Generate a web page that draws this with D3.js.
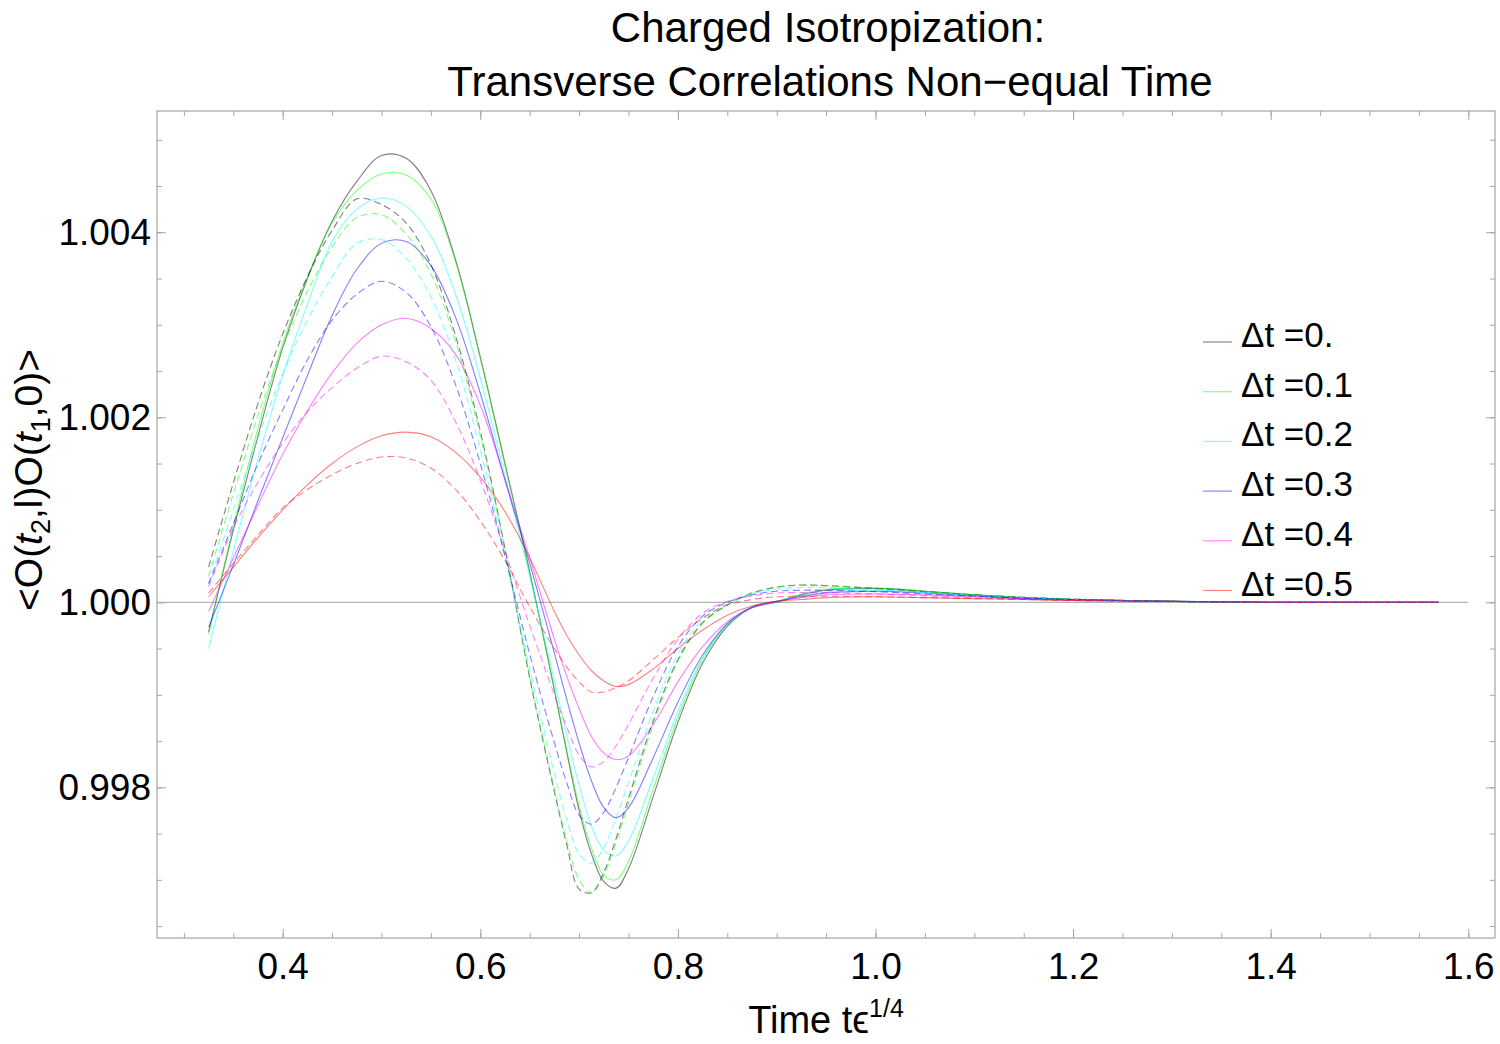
<!DOCTYPE html>
<html>
<head>
<meta charset="utf-8">
<script src="https://cdn.jsdelivr.net/npm/d3@7"></script>
<style>
body { margin: 0; background: white; }
text { font-family: "Liberation Sans", Arial, sans-serif; fill: black; }
</style>
</head>
<body>
<script>
// time grid (t eps^1/4) shared by all curves
var tGrid = [0.325, 0.35, 0.375, 0.4, 0.425, 0.45, 0.475, 0.5, 0.525, 0.55, 0.575, 0.6, 0.625, 0.65, 0.675, 0.6875, 0.7, 0.7125, 0.725, 0.7375,
             0.75, 0.775, 0.8, 0.825, 0.85, 0.875, 0.9, 0.925, 0.95, 1.0, 1.05, 1.1, 1.15, 1.2, 1.3, 1.4, 1.5, 1.57]

// solid curves, dt = 0 ... 0.5
var solid0 = [0.99968, 1.00078, 1.00180, 1.00275, 1.00350, 1.00412, 1.00455, 1.00483, 1.00480, 1.00445, 1.00370, 1.00265, 1.00150, 1.00033, 0.99905, 0.99838, 0.99775, 0.99728, 0.99698, 0.99691,
              0.99712, 0.99790, 0.99870, 0.99934, 0.99974, 0.99994, 1.00000, 1.00008, 1.00013, 1.00015, 1.00012, 1.00008, 1.00005, 1.00003, 1.00001, 1.00000, 1.00000, 1.00000]
var solid1 = [0.99965, 1.00082, 1.00188, 1.00280, 1.00352, 1.00410, 1.00445, 1.00463, 1.00462, 1.00436, 1.00368, 1.00264, 1.00148, 1.00032, 0.99906, 0.99840, 0.99780, 0.99734, 0.99705, 0.99700,
              0.99720, 0.99798, 0.99876, 0.99938, 0.99976, 0.99995, 1.00001, 1.00009, 1.00014, 1.000155, 1.00012, 1.00008, 1.00005, 1.00003, 1.00001, 1.00000, 1.00000, 1.00000]
var solid2 = [0.99950, 1.00055, 1.00155, 1.00245, 1.00322, 1.00390, 1.00425, 1.00437, 1.00428, 1.00396, 1.00333, 1.00242, 1.00136, 1.00028, 0.99915, 0.99857, 0.99802, 0.99758, 0.99732, 0.99726,
              0.99742, 0.99810, 0.99882, 0.99940, 0.99976, 0.99994, 1.00000, 1.00007, 1.00011, 1.00013, 1.00011, 1.00007, 1.00005, 1.00003, 1.00001, 1.00000, 1.00000, 1.00000]
var solid3 = [0.99973, 1.00040, 1.00110, 1.00178, 1.00245, 1.00310, 1.00360, 1.00388, 1.00390, 1.00364, 1.00308, 1.00226, 1.00132, 1.00042, 0.99945, 0.99895, 0.99848, 0.99807, 0.99778, 0.99767,
              0.99778, 0.99832, 0.99892, 0.99943, 0.99977, 0.99995, 1.00001, 1.00006, 1.00010, 1.00012, 1.00010, 1.00007, 1.00004, 1.00003, 1.00001, 1.00000, 1.00000, 1.00000]
var solid4 = [0.99990, 1.00048, 1.00105, 1.00160, 1.00207, 1.00248, 1.00280, 1.00300, 1.00307, 1.00296, 1.00268, 1.00213, 1.00133, 1.00048, 0.99960, 0.99920, 0.99885, 0.99855, 0.99837, 0.99830,
              0.99834, 0.99868, 0.99914, 0.99952, 0.99979, 0.99994, 1.00001, 1.00005, 1.00008, 1.00009, 1.00008, 1.00006, 1.00004, 1.00002, 1.00001, 1.00000, 1.00000, 1.00000]
var solid5 = [1.00006, 1.00038, 1.00070, 1.00100, 1.00127, 1.00150, 1.00168, 1.00180, 1.00184, 1.00179, 1.00162, 1.00135, 1.00098, 1.00048, 0.99990, 0.99964, 0.99943, 0.99926, 0.99915, 0.99909,
              0.99911, 0.99928, 0.99950, 0.99970, 0.99986, 0.99996, 1.00001, 1.00003, 1.00005, 1.00006, 1.00005, 1.00004, 1.00003, 1.00002, 1.00001, 1.00000, 1.00000, 1.00000]

// dashed curves, same dt order
var dashed0 = [1.00038, 1.00129, 1.00215, 1.00290, 1.00352, 1.00402, 1.00436, 1.00430, 1.00410, 1.00365, 1.00288, 1.00185, 1.00058, 0.99918, 0.99795, 0.99738, 0.99690, 0.99686, 0.99708, 0.99745,
               0.99788, 0.99872, 0.99938, 0.99978, 0.99997, 1.00010, 1.000165, 1.000187, 1.00018, 1.00015, 1.000115, 1.00008, 1.000055, 1.000035, 1.00001, 1.00000, 1.00000, 1.00000]
var dashed1 = [1.00028, 1.00117, 1.00202, 1.00275, 1.00336, 1.00384, 1.00416, 1.00419, 1.00398, 1.00355, 1.00282, 1.00180, 1.00056, 0.99920, 0.99798, 0.99742, 0.99700, 0.99686, 0.99705, 0.99740,
               0.99783, 0.99868, 0.99936, 0.99977, 0.99997, 1.00010, 1.00016, 1.000185, 1.00018, 1.00015, 1.000115, 1.00008, 1.000055, 1.000035, 1.00001, 1.00000, 1.00000, 1.00000]
var dashed2 = [1.00020, 1.00100, 1.00178, 1.00247, 1.00305, 1.00352, 1.00388, 1.00392, 1.00372, 1.00330, 1.00262, 1.00165, 1.00050, 0.99928, 0.99815, 0.99765, 0.99728, 0.99718, 0.99735, 0.99767,
               0.99805, 0.99882, 0.99944, 0.99981, 0.99998, 1.00009, 1.00014, 1.00016, 1.00016, 1.000135, 1.000105, 1.000075, 1.00005, 1.00003, 1.00001, 1.00000, 1.00000, 1.00000]
var dashed3 = [1.00020, 1.00085, 1.00150, 1.00208, 1.00262, 1.00305, 1.00333, 1.00347, 1.00335, 1.00298, 1.00235, 1.00150, 1.00050, 0.99944, 0.99848, 0.99805, 0.99770, 0.99760, 0.99773, 0.99800,
               0.99832, 0.99898, 0.99952, 0.99985, 1.00000, 1.00008, 1.00012, 1.00013, 1.00013, 1.000115, 1.00009, 1.000065, 1.000045, 1.00003, 1.00001, 1.00000, 1.00000, 1.00000]
var dashed4 = [1.00017, 1.00080, 1.00130, 1.00172, 1.00206, 1.00232, 1.00253, 1.00266, 1.00260, 1.00240, 1.00195, 1.00132, 1.00055, 0.99975, 0.99900, 0.99865, 0.99835, 0.99822, 0.99828, 0.99845,
               0.99868, 0.99918, 0.99960, 0.99988, 1.00001, 1.00007, 1.00010, 1.000105, 1.000105, 1.00009, 1.00007, 1.00005, 1.000035, 1.000025, 1.00001, 1.00000, 1.00000, 1.00000]
var dashed5 = [1.00010, 1.00042, 1.00073, 1.00102, 1.00122, 1.00138, 1.00150, 1.00157, 1.00156, 1.00145, 1.00122, 1.00088, 1.00045, 0.99995, 0.99950, 0.99930, 0.99914, 0.99903, 0.99903, 0.99908,
               0.99915, 0.99938, 0.99962, 0.99983, 0.99997, 1.00003, 1.00006, 1.000065, 1.000065, 1.00006, 1.00005, 1.00004, 1.00003, 1.00002, 1.00001, 1.00000, 1.00000, 1.00000]

var legendLabels = ["\u0394t =0.", "\u0394t =0.1", "\u0394t =0.2", "\u0394t =0.3", "\u0394t =0.4", "\u0394t =0.5"]
var xTickLabels = [0.4, 0.6, 0.8, 1.0, 1.2, 1.4, 1.6]
var yTickLabels = [0.998, 1.000, 1.002, 1.004]

var lineColors = ["black", "#00ff00", "cyan", "blue", "magenta", "red"]

var setup = function()
{
    var screen = {width: 1500, height: 1044}
    var frame = {left: 157, right: 1495, top: 111, bottom: 938}

    var xScale = d3.scaleLinear()
                    .domain([0.27277, 1.62702])
                    .range([frame.left, frame.right])

    var yScale = d3.scaleLinear()
                    .domain([0.996371, 1.005311])
                    .range([frame.bottom, frame.top])

    var svg = d3.select("body")
    .append("svg")
    .attr("width", screen.width)
    .attr("height", screen.height);

    //title, two lines
    svg.append("text")
    .attr("x", 828).attr("y", 42)
    .style("text-anchor", "middle")
    .style("font-size", "42px")
    .text("Charged Isotropization:")

    svg.append("text")
    .attr("x", 830).attr("y", 96)
    .style("text-anchor", "middle")
    .style("font-size", "42px")
    .text("Transverse Correlations Non\u2212equal Time")

    //frame ticks (inward), minor every 0.05 / 0.0005
    var xMinor = d3.range(0.3, 1.62, 0.05)
    var yMinor = d3.range(0.9965, 1.0053, 0.0005)
    var tickColor = "#a6a6a6"

    var frameAxis = function(axis, tx, ty, len, labels)
    {
        var g = svg.append("g")
        .attr("transform", "translate(" + tx + "," + ty + ")")
        .call(axis.tickSize(-len).tickFormat(labels ? labels : ""))
        g.select(".domain").remove()
        g.selectAll("line").attr("stroke", tickColor).attr("stroke-width", 1)
        return g
    }

    frameAxis(d3.axisBottom(xScale).tickValues(xMinor), 0, frame.bottom, 5)
    frameAxis(d3.axisTop(xScale).tickValues(xMinor), 0, frame.top, 5)
    frameAxis(d3.axisLeft(yScale).tickValues(yMinor), frame.left, 0, 5)
    frameAxis(d3.axisRight(yScale).tickValues(yMinor), frame.right, 0, 5)

    var xAx = frameAxis(d3.axisBottom(xScale).tickValues(xTickLabels).tickPadding(15), 0, frame.bottom, 9, d3.format(".1f"))
    frameAxis(d3.axisTop(xScale).tickValues(xTickLabels), 0, frame.top, 9)
    var yAx = frameAxis(d3.axisLeft(yScale).tickValues(yTickLabels).tickPadding(6), frame.left, 0, 9, d3.format(".3f"))
    frameAxis(d3.axisRight(yScale).tickValues(yTickLabels), frame.right, 0, 9)

    xAx.selectAll("text").style("font-size", "37px").attr("font-family", null)
    yAx.selectAll("text").style("font-size", "37px").attr("font-family", null)

    //frame
    svg.append("rect")
    .attr("x", frame.left).attr("y", frame.top)
    .attr("width", frame.right - frame.left)
    .attr("height", frame.bottom - frame.top)
    .attr("fill", "none")
    .attr("stroke", tickColor)
    .attr("stroke-width", 1.2)

    //axis line at 1
    svg.append("line")
    .attr("x1", frame.left).attr("x2", xScale(1.6))
    .attr("y1", yScale(1)).attr("y2", yScale(1))
    .attr("stroke", "#b3b3b3")
    .attr("stroke-width", 1.3)

    //curves
    var line = d3.line()
    .x(function(d, i) { return xScale(tGrid[i]) })
    .y(function(d) { return yScale(d) })
    .curve(d3.curveCatmullRom.alpha(0.5))

    var solids = [solid0, solid1, solid2, solid3, solid4, solid5]
    var dashes = [dashed0, dashed1, dashed2, dashed3, dashed4, dashed5]

    svg.append("g")
    .attr("id", "solid")
    .selectAll("path")
    .data(solids)
    .enter()
    .append("path")
    .attr("d", line)
    .attr("fill", "none")
    .attr("stroke", function(d, i) { return lineColors[i] })
    .attr("stroke-opacity", 0.5)
    .attr("stroke-width", 1.1)

    svg.append("g")
    .attr("id", "dashed")
    .selectAll("path")
    .data(dashes)
    .enter()
    .append("path")
    .attr("d", line)
    .attr("fill", "none")
    .attr("stroke", function(d, i) { return lineColors[i] })
    .attr("stroke-opacity", 0.5)
    .attr("stroke-width", 1.1)
    .attr("stroke-dasharray", "7,4")

    //x label
    var xl = svg.append("text")
    .attr("x", 826).attr("y", 1033)
    .style("text-anchor", "middle")
    .style("font-size", "38px")
    xl.append("tspan").text("Time t\u03F5")
    xl.append("tspan").attr("dy", -16).style("font-size", "25px").text("1/4")

    //y label, rotated
    var yl = svg.append("text")
    .attr("transform", "translate(42,480) rotate(-90)")
    .style("text-anchor", "middle")
    .style("font-size", "39px")
    yl.append("tspan").text("<O(")
    yl.append("tspan").style("font-style", "italic").text("t")
    yl.append("tspan").attr("dy", 8).style("font-size", "27px").text("2")
    yl.append("tspan").attr("dy", -8).text(",l)O(")
    yl.append("tspan").style("font-style", "italic").text("t")
    yl.append("tspan").attr("dy", 8).style("font-size", "27px").text("1")
    yl.append("tspan").attr("dy", -8).text(",0)>")

    //legend
    var gs = svg.append("g")
    .attr("id", "legend")
    .selectAll("g")
    .data(legendLabels)
    .enter()
    .append("g")
    .attr("transform", function(d, i) { return "translate(1203," + (342 + i * 49.7) + ")" })

    gs.append("line")
    .attr("x1", 0).attr("x2", 29)
    .attr("stroke", function(d, i) { return lineColors[i] })
    .attr("stroke-opacity", 0.5)
    .attr("stroke-width", 1.1)

    gs.append("text")
    .attr("x", 38).attr("y", 5)
    .style("font-size", "35px")
    .text(function(d) { return d })
}

setup()
</script>
</body>
</html>
